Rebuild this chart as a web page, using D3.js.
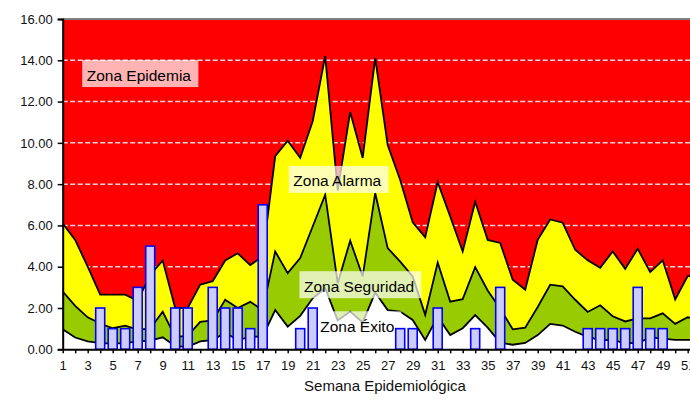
<!DOCTYPE html>
<html>
<head>
<meta charset="utf-8">
<script src="https://d3js.org/d3.v7.min.js"></script>
<style>
  body { margin: 0; background: #fff; }
  text { font-family: "Liberation Sans", Arial, sans-serif; }
</style>
</head>
<body>
<div id="canal"></div>
<script>
// epidemiological weeks shown on the axis (52 is only partly visible at the right edge)
var semanas = d3.range(1, 53);

// upper limit of each zone (cumulative), one value per week
var exito = [0.97,0.57,0.38,0.30,0.28,0.30,0.38,0.42,0.58,0.15,0.12,0.38,0.45,0.80,0.45,0.60,0.63,1.90,1.10,1.62,
  2.47,2.96,1.40,1.83,1.30,2.75,1.90,1.83,1.42,0.45,1.58,0.69,1.02,1.66,1.05,0.32,0.22,0.31,0.69,1.23,
  1.15,0.85,0.60,0.45,0.44,0.30,0.30,0.58,0.52,0.46,0.46,0.45];
var seguridad = [2.80,2.10,1.55,1.25,1.02,1.15,0.95,1.00,1.82,0.60,0.65,1.33,1.40,2.40,2.00,2.30,1.90,4.74,3.69,4.42,
  5.95,7.49,3.20,5.26,3.53,7.57,4.90,4.25,3.53,1.67,4.20,2.31,2.43,3.98,2.85,1.97,0.97,1.05,2.05,3.13,
  3.05,2.40,1.81,2.13,1.60,1.35,1.50,1.50,1.74,1.23,1.55,1.45];
var alarma = [6.10,5.30,4.00,2.65,2.65,2.65,2.35,3.60,4.30,2.00,2.00,3.13,3.30,4.30,4.65,4.08,4.50,9.35,10.10,9.27,
  11.05,14.20,7.70,11.50,9.27,14.10,9.90,8.20,6.15,5.43,8.10,6.44,4.74,7.15,5.30,5.15,3.37,2.89,5.30,6.29,
  6.13,4.82,4.31,3.95,4.74,3.90,4.87,3.74,4.31,2.42,3.55,3.50];

// cases per week (bars)
var casos = [0,0,0,2,1,1,3,5,0,2,2,0,3,2,2,1,7,0,0,1,
  2,0,0,0,0,0,0,1,1,0,2,0,0,1,0,3,0,0,0,0,
  0,0,1,1,1,1,3,1,1,0,0,0];

var yTicks = [0, 2, 4, 6, 8, 10, 12, 14, 16];

// zone names, anchored at (week, value) of the text start
var zonaTextos = ["Zona Epidemia", "Zona Alarma", "Zona Seguridad", "Zona Éxito"];
var zonaSemana = [2.92, 19.45, 20.3, 21.6];
var zonaValor = [13.02, 7.89, 2.79, 0.85];

var width = 690, height = 403;

var svg = d3.select("#canal")
  .append("svg")
    .attr("width", width)
    .attr("height", height);

var x = d3.scaleLinear().domain([1, 52]).range([62.7, 700.2]);
var y = d3.scaleLinear().domain([0, 16]).range([349.3, 19]);

// plot area: red background is the epidemic zone
svg.append("rect")
  .attr("x", x(1))
  .attr("y", y(16))
  .attr("width", x(52) - x(1) + 20)
  .attr("height", y(0) - y(16))
  .style("fill", "#ff0000");

// dashed gridlines
svg.selectAll(".grid")
  .data(yTicks.filter(function(d) { return d > 0 && d < 16; }))
  .enter()
  .append("line")
    .attr("x1", x(1))
    .attr("x2", width)
    .attr("y1", function(d) { return y(d); })
    .attr("y2", function(d) { return y(d); })
    .style("stroke", "#d9d9d9")
    .style("stroke-width", 1.5)
    .style("stroke-dasharray", "5,2.5");

// top border of plot area
svg.append("line")
  .attr("x1", x(1)).attr("x2", width)
  .attr("y1", y(16)).attr("y2", y(16))
  .style("stroke", "#808080")
  .style("stroke-width", 2);

// stacked zones, drawn back to front
var zonas = [
  {vals: alarma, color: "#ffff00"},
  {vals: seguridad, color: "#99cc00"},
  {vals: exito, color: "#ffffff"}
];

var area = d3.area()
  .x(function(d, i) { return x(semanas[i]); })
  .y0(y(0))
  .y1(function(d) { return y(d); });

var line = d3.line()
  .x(function(d, i) { return x(semanas[i]); })
  .y(function(d) { return y(d); });

zonas.forEach(function(z) {
  svg.append("path")
    .attr("d", area(z.vals))
    .style("fill", z.color);
  svg.append("path")
    .attr("d", line(z.vals))
    .style("fill", "none")
    .style("stroke", "#000")
    .style("stroke-width", 1.8)
    .style("stroke-linejoin", "miter");
});

// zone labels with translucent white box
zonaTextos.forEach(function(t, i) {
  var g = svg.append("g");
  var box = g.append("rect");
  var txt = g.append("text")
    .attr("x", x(zonaSemana[i]))
    .attr("y", y(zonaValor[i]))
    .style("font-size", "15.5px")
    .style("fill", "#000")
    .text(t);
  var bb = txt.node().getBBox();
  box.attr("x", bb.x - 4.5)
    .attr("y", y(zonaValor[i]) - 20.5)
    .attr("width", bb.width + 11.5)
    .attr("height", 27)
    .style("fill", "#fff")
    .style("opacity", 0.7);
});

// weekly cases
var barW = 9;
svg.selectAll(".bar")
  .data(casos.map(function(c, i) { return {sem: semanas[i], n: c}; }).filter(function(d) { return d.n > 0; }))
  .enter()
  .append("rect")
    .attr("x", function(d) { return x(d.sem) - barW / 2; })
    .attr("y", function(d) { return y(d.n); })
    .attr("width", barW)
    .attr("height", function(d) { return y(0) - y(d.n); })
    .style("fill", "#ccccff")
    .style("stroke", "#0000ff")
    .style("stroke-width", 1.6);

// y axis
var yAxis = svg.append("g")
  .attr("transform", "translate(" + x(1) + ",0)")
  .call(d3.axisLeft(y).tickValues(yTicks).tickFormat(d3.format(".2f")).tickSize(5).tickPadding(5));
yAxis.select(".domain").style("stroke", "#000").style("stroke-width", 2);
yAxis.selectAll(".tick line").style("stroke", "#000").style("stroke-width", 1.5);
yAxis.selectAll("text").style("font-size", "13px").style("fill", "#111")
  .style("font-family", "'Liberation Sans', Arial, sans-serif");

// x axis
var xAxis = svg.append("g")
  .attr("transform", "translate(0," + y(0) + ")")
  .call(d3.axisBottom(x).tickValues(semanas)
    .tickFormat(function(d) { return d % 2 === 1 ? d : ""; })
    .tickSize(4).tickPadding(7.5).tickSizeOuter(0));
xAxis.select(".domain").style("stroke", "#000").style("stroke-width", 2);
xAxis.selectAll(".tick line").style("stroke", "#000").style("stroke-width", 1.5);
xAxis.selectAll("text").style("font-size", "13px").style("fill", "#111")
  .style("font-family", "'Liberation Sans', Arial, sans-serif");

// axis title
svg.append("text")
  .attr("x", 385)
  .attr("y", 390.7)
  .attr("text-anchor", "middle")
  .style("font-size", "15px")
  .style("fill", "#111")
  .text("Semana Epidemiológica");
</script>
</body>
</html>
